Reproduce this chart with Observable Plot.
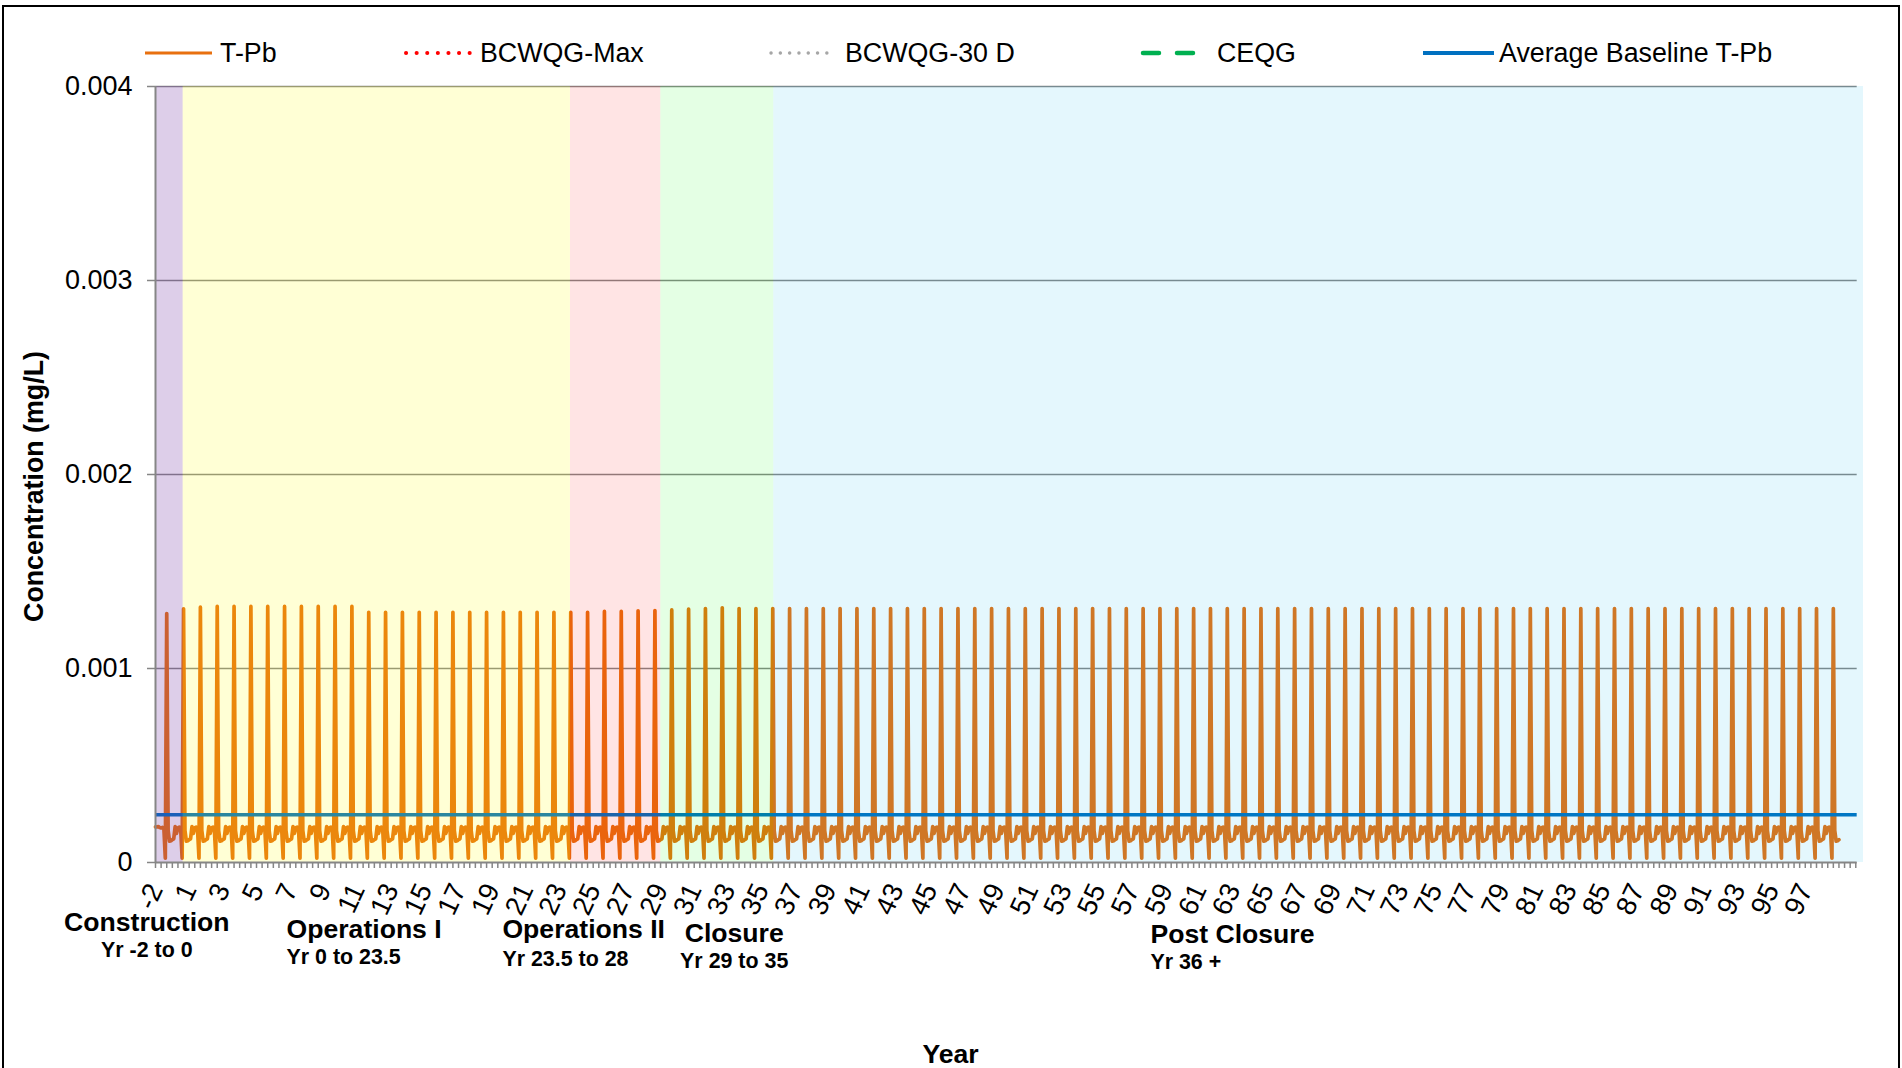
<!DOCTYPE html>
<html>
<head>
<meta charset="utf-8">
<script src="https://cdn.jsdelivr.net/npm/d3@7"></script>
<script src="https://cdn.jsdelivr.net/npm/@observablehq/plot@0.6"></script>
<style>
  html, body { margin: 0; padding: 0; background: #fff; }
  #wrap { position: relative; width: 1902px; height: 1068px; overflow: hidden; font-family: "Liberation Sans", Arial, sans-serif; }
  #chart { position: absolute; left: 0; top: 0; }
  #legend { position: absolute; left: 0; top: 0; }
  #frame { position: absolute; left: 2px; top: 5px; width: 1898px; height: 1100px; border: 2.5px solid #000; box-sizing: border-box; pointer-events: none; }
</style>
</head>
<body>
<div id="wrap">
  <div id="chart"></div>
  <svg id="legend" width="1902" height="86"></svg>
  <div id="frame"></div>
</div>
<script>
// ---------------- DATA ----------------
const seriesNames = ["T-Pb", "BCWQG-Max", "BCWQG-30 D", "CEQG", "Average Baseline T-Pb"];

// category years (monthly categories, 12 per year; the axis has no year 0)
const categoryYears = [-2, -1, ...d3.range(1, 101)];
const monthsPerYear = 12;

// x tick labels shown on the axis
const xTickYears = [-2, 1, 3, 5, 7, 9, 11, 13, 15, 17, 19, 21, 23, 25, 27, 29, 31, 33, 35, 37,
  39, 41, 43, 45, 47, 49, 51, 53, 55, 57, 59, 61, 63, 65, 67, 69, 71, 73, 75, 77,
  79, 81, 83, 85, 87, 89, 91, 93, 95, 97];

// y ticks (mg/L)
const yTicks = [0, 0.001, 0.002, 0.003, 0.004];
const yGrid = [0.001, 0.002, 0.003, 0.004];

// T-Pb: months before the first spike of Yr -2
const leadIn = [0.000184, 0.000183, 0.000185, 0.000180, 0.000178, 0.000181, 0.000172];
// annual cycle: dip just before the spike, then the months after the spike
const dipValue = 0.000022;
const cycleLow = [0.000165, 0.000110, 0.000112, 0.000118, 0.000122, 0.000185, 0.000150, 0.000178, 0.000182, 0.000165];
// spike (peak) value of each year
const peakValues = [
  0.001283, 0.001308, 0.001316, 0.00132, 0.00132, 0.00132, 0.00132, 0.00132, 0.00132, 0.00132,
  0.00132, 0.00132, 0.00129, 0.00129, 0.00129, 0.00129, 0.00129, 0.00129, 0.00129, 0.00129,
  0.00129, 0.00129, 0.00129, 0.00129, 0.00129, 0.00129, 0.001294, 0.001294, 0.001297, 0.001299,
  0.001302, 0.001306, 0.001309, 0.001313, 0.001309, 0.001309, 0.001309, 0.001309, 0.001309, 0.001309,
  0.001309, 0.001309, 0.001309, 0.001309, 0.001309, 0.001309, 0.001309, 0.001309, 0.001309, 0.001309,
  0.001309, 0.001309, 0.001309, 0.001309, 0.001309, 0.001309, 0.001309, 0.001309, 0.001309, 0.001309,
  0.001309, 0.001309, 0.001309, 0.001309, 0.001309, 0.001309, 0.001309, 0.001309, 0.001309, 0.001309,
  0.001309, 0.001309, 0.001309, 0.001309, 0.001309, 0.001309, 0.001309, 0.001309, 0.001309, 0.001309,
  0.001309, 0.001309, 0.001309, 0.001309, 0.001309, 0.001309, 0.001309, 0.001309, 0.001309, 0.001309,
  0.001309, 0.001309, 0.001309, 0.001309, 0.001309, 0.001309, 0.001309, 0.001309, 0.001309, 0.001309
];
const lastTpbCategory = 1200;

// Average baseline T-Pb (mg/L) and the categories it spans
const baselineValue = 0.000246;
const baselineEndCategory = 1213;

// project phases (category positions of shaded periods)
const phaseNames = ["Construction", "Operations I", "Operations II", "Closure", "Post Closure"];
const phaseRanges = ["Yr -2 to 0", "Yr 0 to 23.5", "Yr 23.5 to 28", "Yr 29 to 35", "Yr 36 +"];
const phaseStart = [0, 19.7, 295.8, 360.2, 440.7];
const phaseEnd = [19.7, 295.8, 360.2, 440.7, 1217.5];

// ---------------- STYLES / LAYOUT ----------------
const orange = "#E8700F";
const baseBlue = "#0070C0";
const gridGray = "#868686";
const phaseFill = ["#7030A0", "#FFFF00", "#FF0000", "#00FF00", "#00B0F0"];
const phaseOpacity = [0.235, 0.165, 0.106, 0.106, 0.105];
// label placement below the axis (x in category units, dy in px below the axis)
const phaseLabelLayout = [
  {x: -6.2, anchor: "middle", dyT: 60, dyS: 88},
  {x: 93.4, anchor: "start", dyT: 67, dyS: 95},
  {x: 247.3, anchor: "start", dyT: 67, dyS: 97},
  {x: 412.5, anchor: "middle", dyT: 71, dyS: 99},
  {x: 709.2, anchor: "start", dyT: 72, dyS: 100}
];
const font = '"Liberation Sans", Arial, sans-serif';

// ---------------- BUILD TABLES ----------------
const tpb = [];
leadIn.forEach((v, i) => tpb.push({cat: i, v}));
peakValues.forEach((p, k) => {
  const start = leadIn.length + monthsPerYear * k;
  [dipValue, p, ...cycleLow].forEach((v, j) => {
    const c = start + j;
    if (c <= lastTpbCategory) tpb.push({cat: c, v});
  });
});

const phases = phaseNames.map((name, i) => ({
  name, range: phaseRanges[i], start: phaseStart[i], end: phaseEnd[i],
  fill: phaseFill[i], opacity: phaseOpacity[i]
}));

const labelCat = new Map(xTickYears.map(y => [categoryYears.indexOf(y) * monthsPerYear, y]));
const minorTicks = d3.range(0, baselineEndCategory, 4);

const phaseTextMarks = phases.flatMap((p, i) => {
  const L = phaseLabelLayout[i];
  return [
    Plot.text([p], {x: () => L.x, text: "name", frameAnchor: "bottom", dy: L.dyT, textAnchor: L.anchor,
      fontWeight: "bold", fontSize: 26.6, fill: "black", lineAnchor: "middle"}),
    Plot.text([p], {x: () => L.x, text: "range", frameAnchor: "bottom", dy: L.dyS, textAnchor: L.anchor,
      fontWeight: "bold", fontSize: 21.4, fill: "black", lineAnchor: "middle"})
  ];
});

const chart = Plot.plot({
  width: 1902,
  height: 1068,
  marginLeft: 155,
  marginRight: 39,
  marginTop: 86,
  marginBottom: 206,
  style: {fontFamily: font, background: "transparent", color: "black", overflow: "visible"},
  x: {type: "linear", domain: [0, 1217.5]},
  y: {type: "linear", domain: [0, 0.004]},
  marks: [
    Plot.ruleY(yGrid, {x1: 0, x2: baselineEndCategory, stroke: gridGray, strokeWidth: 1.5}),
    Plot.line(tpb, {x: "cat", y: "v", stroke: orange, strokeWidth: 3.7, strokeLinejoin: "round"}),
    Plot.ruleY([baselineValue], {x1: 0, x2: baselineEndCategory, stroke: baseBlue, strokeWidth: 3.6}),
    Plot.rect(phases, {x1: "start", x2: "end", y1: 0, y2: 0.004, fill: "fill", fillOpacity: "opacity"}),
    Plot.ruleY([0], {x1: 0, x2: baselineEndCategory, stroke: gridGray, strokeWidth: 2}),
    Plot.ruleX([0], {y1: 0, y2: 0.004, stroke: gridGray, strokeWidth: 2}),
    Plot.axisY({ticks: yTicks, tickFormat: d => d === 0 ? "0" : d3.format(".3f")(d), tickSize: 8, tickPadding: 15,
      fontSize: 27, stroke: gridGray, strokeWidth: 1.5, fill: "black", label: null}),
    Plot.axisX({ticks: minorTicks, tickFormat: () => "", tickSize: 6, stroke: gridGray, strokeWidth: 1.5, label: null}),
    Plot.axisX({ticks: [...labelCat.keys()], tickFormat: c => String(labelCat.get(c)), tickSize: 0, tickPadding: 23,
      tickRotate: -65, fontSize: 27.5, fill: "black", label: null}),
    ...phaseTextMarks,
    Plot.text(["Year"], {x: () => 566.7, frameAnchor: "bottom", dy: 192, fontWeight: "bold", fontSize: 26.6,
      fill: "black", lineAnchor: "middle"}),
    Plot.text(["Concentration (mg/L)"], {frameAnchor: "left", dx: -121, dy: 12, rotate: -90, textAnchor: "middle",
      lineAnchor: "middle", fontWeight: "bold", fontSize: 26.8, fill: "black"})
  ]
});
document.getElementById("chart").appendChild(chart);

// ---------------- LEGEND ----------------
const legendStyle = {
  "T-Pb": {x0: 145, x1: 212, tx: 220, stroke: orange, width: 3, dash: null, cap: "butt"},
  "BCWQG-Max": {x0: 406, x1: 470, tx: 480, stroke: "#FF0000", width: 4, dash: "0.1 10.5", cap: "round"},
  "BCWQG-30 D": {x0: 771, x1: 836, tx: 845, stroke: "#A6A6A6", width: 3.4, dash: "0.1 9.2", cap: "round"},
  "CEQG": {x0: 1143, x1: 1197, tx: 1217, stroke: "#00B050", width: 4.5, dash: "16 18", cap: "round"},
  "Average Baseline T-Pb": {x0: 1423, x1: 1494, tx: 1499, stroke: baseBlue, width: 4, dash: null, cap: "butt"}
};
const leg = d3.select("#legend");
const ly = 53;
seriesNames.forEach(name => {
  const s = legendStyle[name];
  const ln = leg.append("line").attr("x1", s.x0).attr("x2", s.x1).attr("y1", ly).attr("y2", ly)
    .attr("stroke", s.stroke).attr("stroke-width", s.width).attr("stroke-linecap", s.cap);
  if (s.dash) ln.attr("stroke-dasharray", s.dash);
  leg.append("text").attr("x", s.tx).attr("y", ly).attr("dy", "0.35em")
    .attr("font-family", font).attr("font-size", 26.8).attr("fill", "black").text(name);
});
</script>
</body>
</html>
